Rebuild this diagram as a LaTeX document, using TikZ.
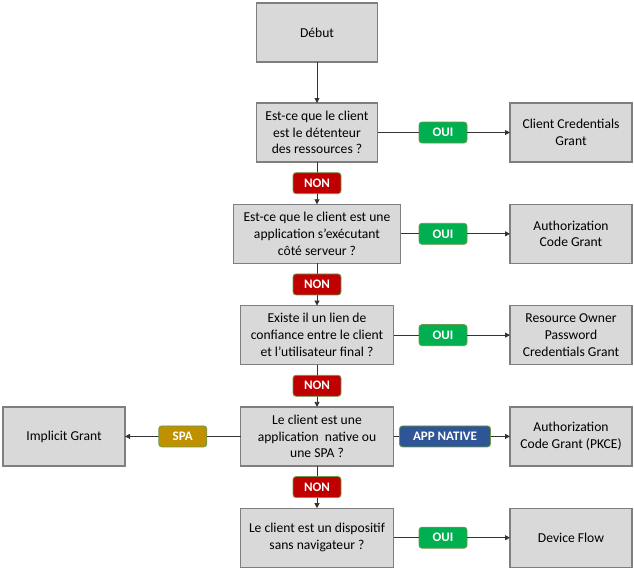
\documentclass[tikz,border=0pt]{standalone}
\usepackage{fontspec}
\setmainfont{Carlito}
\usetikzlibrary{arrows.meta,positioning}
\definecolor{boxgray}{HTML}{D9D9D9}
\definecolor{boxline}{HTML}{7F7F7F}
\definecolor{tagline}{HTML}{6A9A4A}
\definecolor{ouigreen}{HTML}{00B050}
\definecolor{nonred}{HTML}{C00000}
\definecolor{spagold}{HTML}{BF9000}
\definecolor{appblue}{HTML}{2F5597}

\begin{document}
\begin{tikzpicture}[>={Triangle[length=5pt,width=5pt]},x=1pt,y=-1pt,node distance=42.3pt]
  \tikzstyle{box}=[draw=boxline,fill=boxgray,line width=1.2pt,outer sep=0pt,minimum width=121pt,minimum height=59pt,align=center,inner sep=2pt,font=\fontsize{13.6}{16.8}\selectfont]
  \tikzstyle{tag}=[draw=tagline,rounded corners=3pt,line width=0.8pt,minimum width=48pt,minimum height=21pt,inner sep=2pt,text=white,font=\bfseries\fontsize{13}{14}\selectfont]
  \tikzstyle{link}=[draw=black!80,line width=0.8pt]
  \useasboundingbox (0,0) rectangle (634,571);
  \coordinate (xr) at (571,0);
  \coordinate (xt) at (443,0);

  % colonne des questions
  \node[box] (debut) at (317,32.5) {Début};
  \node[box,below=41pt of debut] (q1) {Est-ce que le client\\est le détenteur\\des ressources ?};
  \node[box,minimum width=167pt,below=of q1] (q2) {Est-ce que le client est une\\application s’exécutant\\côté serveur ?};
  \node[box,minimum width=153pt,below=of q2] (q3) {Existe il un lien de\\confiance entre le client\\et l’utilisateur final ?};
  \node[box,minimum width=153pt,below=of q3] (q4) {Le client est une\\application\ \ native ou\\une SPA ?};
  \node[box,minimum width=153pt,below=of q4] (q5) {Le client est un dispositif\\sans navigateur ?};

  % flux retenus
  \node[box,minimum width=122pt] (ccg) at (q1 -| xr) {Client Credentials\\Grant};
  \node[box,minimum width=122pt] (acg) at (q2 -| xr) {Authorization\\Code Grant};
  \node[box,minimum width=122pt] (ropc) at (q3 -| xr) {Resource Owner\\Password\\Credentials Grant};
  \node[box,minimum width=122pt] (pkce) at (q4 -| xr) {Authorization\\Code Grant (PKCE)};
  \node[box,minimum width=122pt] (device) at (q5 -| xr) {Device Flow};
  \node[box,minimum width=122pt] (implicit) at (64,0 |- q4) {Implicit Grant};

  % branches NON
  \draw[link,->] (debut) -- (q1);
  \draw[link,->] (q1) -- node[tag,fill=nonred]{NON} (q2);
  \draw[link,->] (q2) -- node[tag,fill=nonred]{NON} (q3);
  \draw[link,->] (q3) -- node[tag,fill=nonred]{NON} (q4);
  \draw[link,->] (q4) -- node[tag,fill=nonred]{NON} (q5);

  % branches OUI
  \node[tag,fill=ouigreen] (oui1) at (q1 -| xt) {OUI};
  \node[tag,fill=ouigreen] (oui2) at (q2 -| xt) {OUI};
  \node[tag,fill=ouigreen] (oui3) at (q3 -| xt) {OUI};
  \node[tag,fill=ouigreen] (oui5) at (q5 -| xt) {OUI};
  \node[tag,fill=appblue,minimum width=91pt] (native) at (445,0 |- q4) {APP NATIVE};
  \draw[link] (q1) -- (oui1);
  \draw[link,->] (oui1) -- (ccg);
  \draw[link] (q2) -- (oui2);
  \draw[link,->] (oui2) -- (acg);
  \draw[link] (q3) -- (oui3);
  \draw[link,->] (oui3) -- (ropc);
  \draw[link] (q4) -- (native);
  \draw[link,->] (native) -- (pkce);
  \draw[link] (q5) -- (oui5);
  \draw[link,->] (oui5) -- (device);
  \draw[link,->] (q4) -- node[tag,fill=spagold]{SPA} (implicit);
\end{tikzpicture}
\end{document}
